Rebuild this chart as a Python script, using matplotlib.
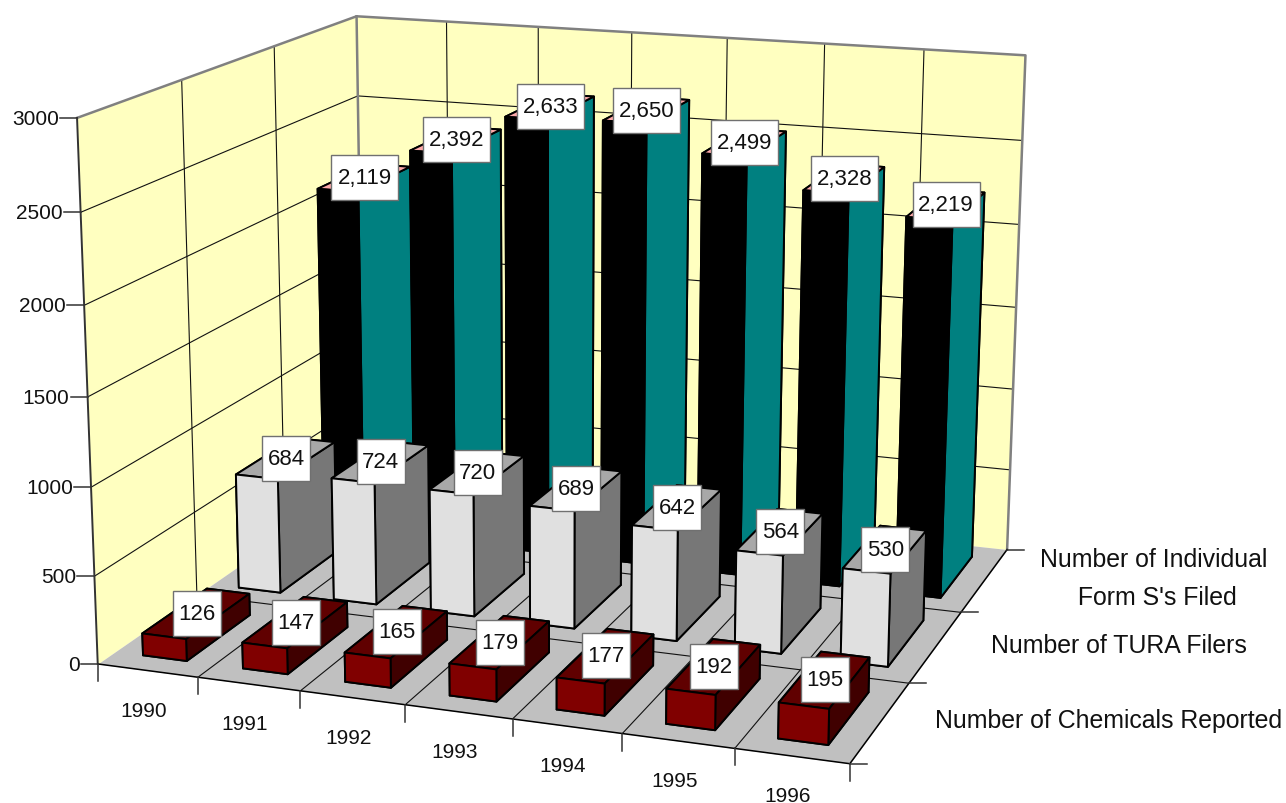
import matplotlib
matplotlib.use('Agg')
import matplotlib.pyplot as plt
from matplotlib.patches import Rectangle
from mpl_toolkits.mplot3d import proj3d
from mpl_toolkits.mplot3d.art3d import Poly3DCollection

plt.rcParams['font.family'] = ['Liberation Sans', 'DejaVu Sans']

years = ['1990', '1991', '1992', '1993', '1994', '1995', '1996']
series_names = ['Number of Chemicals Reported', 'Number of TURA Filers',
                'Number of Individual\n Form S\'s Filed']
chemicals = [126, 147, 165, 179, 177, 192, 195]
filers = [684, 724, 720, 689, 642, 564, 530]
form_s = [2119, 2392, 2633, 2650, 2499, 2328, 2219]
z_ticks = [0, 500, 1000, 1500, 2000, 2500, 3000]

# face colours in bar3d order: bottom, top, front, back, left, right
face_colors = [
    ['#600000', '#600000', '#800000', '#400000', '#400000', '#400000'],
    ['#a8a8a8', '#a8a8a8', '#e0e0e0', '#777777', '#777777', '#777777'],
    ['#ffaaaa', '#ffaaaa', '#000000', '#008080', '#008080', '#008080'],
]
bar_w = 0.44
bar_d = 0.66
n_x = len(years)
n_y = len(series_names)
z_top = z_ticks[-1]

fig = plt.figure(figsize=(12.86, 8.04), dpi=100)
# the axes box runs past the figure so the perspective box fills the frame
side = 1095.3
ax = fig.add_axes([14.2 / 1286, -109.2 / 804, side / 1286, side / 804], projection='3d')
ax.set_xlim(0, n_x)
ax.set_ylim(0, n_y)
ax.set_zlim(0, z_top)
ax.view_init(14.7012, -70.3398, -0.1011)
ax.set_proj_type('persp', focal_length=0.5487)
ax.set_box_aspect((1.4008, 1.2108, 1))
ax.set_axis_off()
ax.computed_zorder = False

# walls and floor
left_wall = [(0, 0, 0), (0, n_y, 0), (0, n_y, z_top), (0, 0, z_top)]
back_wall = [(0, n_y, 0), (n_x, n_y, 0), (n_x, n_y, z_top), (0, n_y, z_top)]
floor = [(0, 0, 0), (n_x, 0, 0), (n_x, n_y, 0), (0, n_y, 0)]
for poly, col in ((left_wall, '#ffffc0'), (back_wall, '#ffffc0'), (floor, '#c0c0c0')):
    ax.add_collection3d(Poly3DCollection([poly], facecolors=col, edgecolors=col, linewidths=0, zorder=1))

# grid lines
grid_kw = dict(color='#111111', lw=0.8, zorder=2)
for z in z_ticks[1:-1]:
    ax.plot([0, 0, n_x], [0, n_y, n_y], [z, z, z], **grid_kw)
for i in range(1, n_x):
    ax.plot([i, i, i], [0, n_y, n_y], [0, 0, z_top], **grid_kw)
for j in range(1, n_y):
    ax.plot([0, 0, n_x], [j, j, j], [z_top, 0, 0], **grid_kw)

# wall outline, with the front corner darker than the rest
edge_kw = dict(color='#808080', lw=1.8, zorder=3)
ax.plot([0, 0, n_x, n_x], [0, n_y, n_y, n_y], [z_top, z_top, z_top, 0], **edge_kw)
ax.plot([0, 0], [n_y, n_y], [0, z_top], **edge_kw)
ax.plot([0, 0], [0, 0], [0, z_top], color='#333333', lw=1.4, zorder=3)
ax.plot([0, n_x, n_x], [0, 0, n_y], [0, 0, 0], color='black', lw=1.1, zorder=3)

# bars, back row first and left to right so nearer bars cover farther ones
rows = [chemicals, filers, form_s]
order = 4
for j in range(n_y - 1, -1, -1):
    for i in range(n_x):
        ax.bar3d(i + 0.5 - bar_w / 2, j + 0.5 - bar_d / 2, 0, bar_w, bar_d, rows[j][i],
                 color=face_colors[j], edgecolor='black', linewidth=1.4,
                 shade=False, zorder=order)
        order += 1

fig.canvas.draw()
M = ax.get_proj()


def to_px(x, y, z):
    xp, yp, _ = proj3d.proj_transform(x, y, z, M)
    px, py = ax.transData.transform((xp, yp))
    return px, 804 - py


# ticks, labels and value boxes are laid over the 3D axes in pixel units
over = fig.add_axes([0, 0, 1, 1])
over.set_xlim(0, 1286)
over.set_ylim(804, 0)
over.axis('off')
over.patch.set_alpha(0)

tick_kw = dict(color='#333333', lw=1.1)
for z in z_ticks:
    px, py = to_px(0, 0, z)
    over.plot([px - 17, px], [py, py], **tick_kw)
    over.text(px - 18, py + 0.5, str(z), ha='right', va='center', fontsize=15, color='#111111')

for i in range(n_x + 1):
    px, py = to_px(i, 0, 0)
    over.plot([px, px], [py, py + 17], **tick_kw)
for i, year in enumerate(years):
    px, py = to_px(i + 0.5, 0, 0)
    over.text(px - 4, py + 39.5, year, ha='center', va='center', fontsize=15, color='#111111')

for j in range(n_y + 1):
    px, py = to_px(n_x, j, 0)
    over.plot([px, px + 17], [py, py], **tick_kw)
for j, name in enumerate(series_names):
    px, py = to_px(n_x, j + 0.5, 0)
    over.text(px + 55, py - 2, name, ha='left', va='center', ma='center',
              fontsize=17.9, linespacing=1.75, color='#111111')

for j, row in enumerate(rows):
    for i, value in enumerate(row):
        px, py = to_px(i + 0.5, j + 0.5, value)
        text = f'{value:,}'
        w = 67 if len(text) > 3 else 48
        over.add_patch(Rectangle((px - w / 2, py - 22.5), w, 45, facecolor='white',
                                 edgecolor='#707070', lw=1.0, zorder=5))
        over.text(px, py, text, ha='center', va='center', fontsize=16, color='#111111', zorder=6)

fig.savefig('out.png', dpi=100)
